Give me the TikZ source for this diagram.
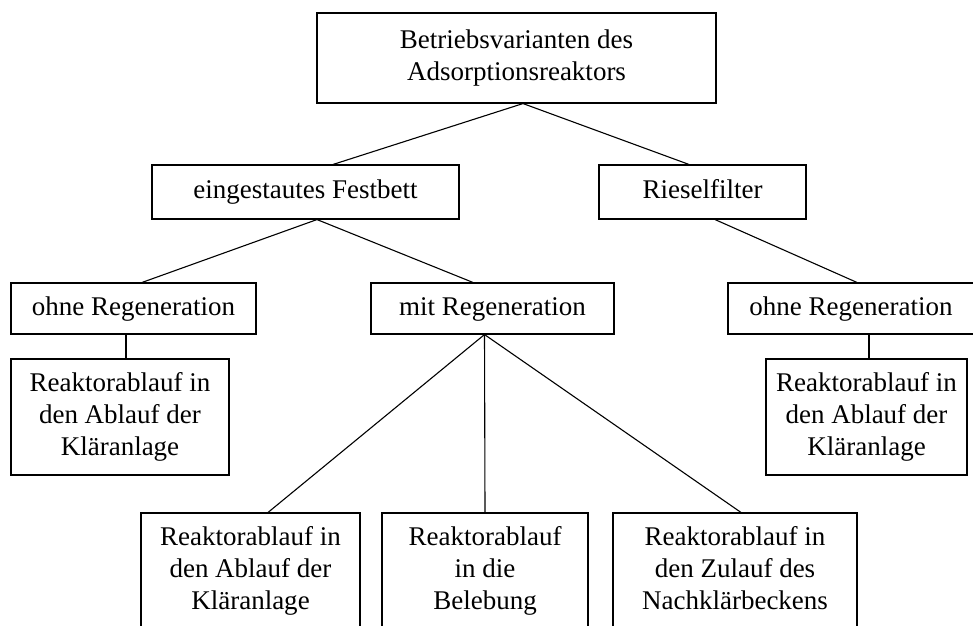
\documentclass[tikz,border=0pt]{standalone}
\usepackage{fontspec}
\setmainfont{Liberation Serif}
\begin{document}
\begin{tikzpicture}[x=1pt,y=-1pt,
  box/.style={draw, line width=1.1pt, inner sep=0pt, align=center,
    font=\fontsize{27}{31.7}\selectfont},
  one/.style={text height=19pt, text depth=6pt},
  conn/.style={line width=1.1pt}]
\useasboundingbox (0,0) rectangle (973,625);
\clip (0,0) rectangle (973,625);
% level 0
\node[box, minimum width=399pt, minimum height=90pt] (top) at (516.5,58)
  {Betriebsvarianten des\\Adsorptionsreaktors};
% level 1
\node[box, one, minimum width=307pt, minimum height=54pt] (fest) at (305.5,192) {eingestautes Festbett};
\node[box, one, minimum width=207pt, minimum height=54pt] (riesel) at (702.5,192) {Rieselfilter};
% level 2
\node[box, one, minimum width=245pt, minimum height=51pt] (ohneL) at (133.5,308.5) {ohne Regeneration};
\node[box, one, minimum width=243pt, minimum height=51pt] (mit) at (492.5,308.5) {mit Regeneration};
\node[box, one, minimum width=246pt, minimum height=51pt] (ohneR) at (851,308.5) {ohne Regeneration};
% level 3
\node[box, minimum width=218pt, minimum height=116pt] (reakL) at (120,417)
  {Reaktorablauf in\\den Ablauf der\\Kläranlage};
\node[box, minimum width=201pt, minimum height=116pt] (reakR) at (866.5,417)
  {Reaktorablauf in\\den Ablauf der\\Kläranlage};
% level 4
\node[box, minimum width=219pt, minimum height=116pt] (b1) at (250.5,571)
  {Reaktorablauf in\\den Ablauf der\\Kläranlage};
\node[box, minimum width=206pt, minimum height=116pt] (b2) at (485,571)
  {Reaktorablauf\\in die\\Belebung};
\node[box, minimum width=244pt, minimum height=116pt] (b3) at (735,571)
  {Reaktorablauf in\\den Zulauf des\\Nachklärbeckens\vphantom{g}};
% connectors
\draw[conn] ([xshift=6.5pt]top.south) -- ([xshift=27.5pt]fest.north);
\draw[conn] ([xshift=6.5pt]top.south) -- ([xshift=-13.5pt]riesel.north);
\draw[conn] ([xshift=11.5pt]fest.south) -- ([xshift=8.5pt]ohneL.north);
\draw[conn] ([xshift=11.5pt]fest.south) -- ([xshift=-19.5pt]mit.north);
\draw[conn] ([xshift=12.5pt]riesel.south) -- ([xshift=6pt]ohneR.north);
\draw[conn] ([xshift=-7.5pt]ohneL.south) -- ([xshift=6pt]reakL.north);
\draw[conn] ([xshift=18pt]ohneR.south) -- ([xshift=2.5pt]reakR.north);
\draw[conn] ([xshift=-8pt]mit.south) -- ([xshift=17.5pt]b1.north);
\draw[conn] ([xshift=-8pt]mit.south) -- (b2.north);
\draw[conn] ([xshift=-8pt]mit.south) -- ([xshift=6pt]b3.north);
\end{tikzpicture}
\end{document}
